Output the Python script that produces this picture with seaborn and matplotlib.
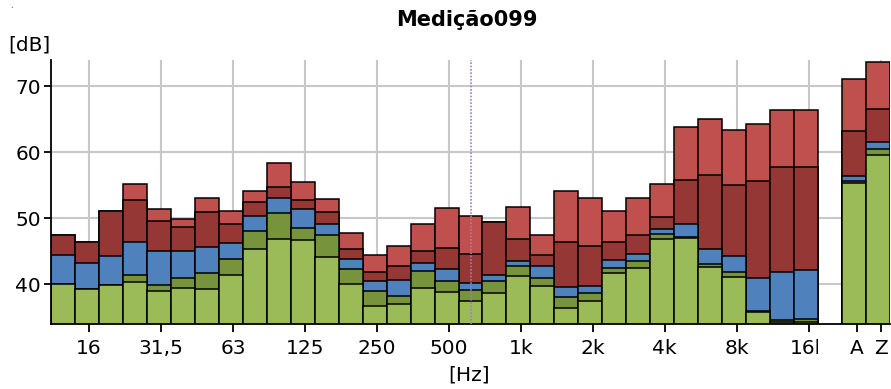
import pandas as pd
import seaborn as sns
import matplotlib.pyplot as plt
from matplotlib.transforms import Bbox, TransformedBbox

# 1/3 octave bands + gap + A/Z totals
bands = ["12.5", "16", "20", "25", "31.5", "40", "50", "63", "80", "100", "125", "160",
         "200", "250", "315", "400", "500", "630", "800", "1k", "1.25k", "1.6k", "2k", "2.5k",
         "3.15k", "4k", "5k", "6.3k", "8k", "10k", "12.5k", "16k", "A", "Z"]

# layer levels in dB (one value per band), lowest to highest
lt_green = [40.0, 39.2, 39.85, 40.25, 38.9, 39.35, 39.25, 41.3, 45.3, 46.8, 46.6, 44.15,
            39.95, 36.7, 37.0, 39.4, 38.8, 37.5, 38.7, 41.2, 39.75, 36.35, 37.4, 41.6,
            42.45, 46.8, 47.0, 42.6, 41.05, 35.8, 34.2, 34.2, 55.25, 59.6]
dk_green = [40.0, 39.2, 39.85, 41.4, 39.9, 40.95, 41.6, 43.85, 48.0, 50.75, 48.5, 47.35,
            42.3, 39.0, 38.2, 41.9, 40.5, 39.1, 40.4, 42.8, 40.9, 38.1, 38.6, 42.5,
            43.55, 47.6, 47.15, 43.0, 41.85, 35.9, 34.55, 34.75, 55.6, 60.45]
blue = [44.4, 43.2, 44.2, 46.3, 45.0, 44.95, 45.65, 46.25, 50.3, 53.0, 51.3, 49.05,
        43.75, 40.45, 40.6, 43.2, 42.2, 40.15, 41.35, 43.45, 42.7, 39.6, 39.75, 43.7,
        44.6, 48.35, 49.1, 45.35, 44.25, 40.85, 41.85, 42.15, 56.3, 61.45]
dk_red = [47.5, 46.4, 51.1, 52.7, 49.6, 48.7, 50.9, 49.1, 52.5, 54.75, 52.8, 50.95,
          45.25, 41.85, 42.7, 45.0, 45.4, 44.6, 49.45, 46.75, 44.45, 46.35, 45.75, 46.3,
          47.4, 50.2, 55.8, 56.45, 54.95, 55.65, 57.7, 57.7, 63.2, 66.5]
lt_red = [47.5, 46.4, 51.1, 55.1, 51.3, 49.85, 53.1, 51.1, 54.15, 58.4, 55.5, 52.9,
          47.8, 44.45, 45.8, 49.05, 51.45, 50.35, 49.45, 51.6, 47.5, 54.1, 53.1, 51.05,
          53.0, 55.15, 63.75, 65.05, 63.4, 64.3, 66.35, 66.35, 71.05, 73.6]

tick_bands = ["16", "31.5", "63", "125", "250", "500", "1k", "2k", "4k", "8k", "16k", "A", "Z"]
tick_labels = ["16", "31,5", "63", "125", "250", "500", "1k", "2k", "4k", "8k", "16k", "A", "Z"]

order = bands[:32] + [" "] + bands[32:]

layers = [("lt_red", lt_red, "#C0504D"),
          ("dk_red", dk_red, "#953735"),
          ("blue", blue, "#4F81BD"),
          ("dk_green", dk_green, "#77933C"),
          ("lt_green", lt_green, "#9BBB59")]

rows = []
for name, vals, _ in layers:
    for b, v in zip(bands, vals):
        rows.append({"band": b, "layer": name, "level": v})
df = pd.DataFrame(rows)

plt.rcParams['font.family'] = ['DejaVu Sans']
fig = plt.figure(figsize=(8.91, 3.89), dpi=100)
ax = fig.add_axes([50.7 / 891, 65 / 389, 839.6 / 891, 264 / 389])

for name, _, col in layers:
    sns.barplot(data=df[df["layer"] == name], x="band", y="level", order=order,
                color=col, saturation=1, width=1.0, errorbar=None,
                edgecolor="black", linewidth=1.1, ax=ax, zorder=2)

ax.set_xlim(-0.5, len(order) - 0.5)
ax.set_ylim(33.94, 73.94)
ax.set_yticks([40, 50, 60, 70])

tick_pos = [order.index(b) + 0.1 for b in tick_bands]
ax.set_xticks(tick_pos)
ax.set_xticklabels(tick_labels)

ax.set_axisbelow(True)
ax.grid(True, color="#C8C8C8", linewidth=1.5)
ax.xaxis.get_gridlines()[-2].set_visible(False)

# cursor line at 630 Hz
ax.axvline(order.index("630"), color="#A878C8", linewidth=1.2,
           linestyle=(0, (1, 1)), zorder=3)

for s in ["top", "right"]:
    ax.spines[s].set_visible(False)
for s in ["left", "bottom"]:
    ax.spines[s].set_linewidth(1.3)
    ax.spines[s].set_color("black")

ax.tick_params(axis="x", direction="out", length=6, width=1.3, labelsize=14.5, pad=5)
ax.tick_params(axis="y", direction="out", length=5, width=1.3, labelsize=14.5, pad=2)
ax.set_xlabel("")
ax.set_ylabel("")

fig.text(467 / 891, 1 - 20 / 389, "Medição099", ha="center", va="center",
         fontsize=15, fontweight="bold")
fig.text(8 / 891, 1 - 45 / 389, "[dB]", ha="left", va="center", fontsize=14.5)
fig.text(469 / 891, 1 - 375 / 389, "[Hz]", ha="center", va="center", fontsize=14.5)
fig.text(10 / 891, 1 - 5 / 389, ".", ha="left", va="center", fontsize=6)

# the 16k label is cut at the band panel edge
lbl = ax.get_xticklabels()[10]
lbl.set_clip_on(True)
lbl.set_clip_box(TransformedBbox(Bbox([[0, 0], [818 / 891, 1]]), fig.transFigure))

plt.savefig("out.png", dpi=100)
